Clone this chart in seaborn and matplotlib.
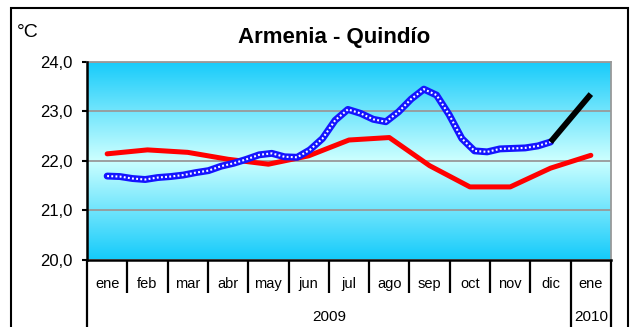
import numpy as np
import pandas as pd
import matplotlib
matplotlib.use("Agg")
import matplotlib.pyplot as plt
from matplotlib.colors import LinearSegmentedColormap
from matplotlib.patches import Rectangle
import matplotlib.transforms as mtransforms
import seaborn as sns

# ---- data -------------------------------------------------------------
months = ["ene", "feb", "mar", "abr", "may", "jun", "jul",
          "ago", "sep", "oct", "nov", "dic", "ene"]
year_labels = ["2009", "2010"]

# long-term monthly mean (°C)
monthly_mean = [22.14, 22.22, 22.17, 22.03, 21.93, 22.10, 22.42,
                22.47, 21.90, 21.47, 21.47, 21.85, 22.11]

# 2009 ten-day (decadal) temperature (°C), three values per month
decadal_2009 = [21.69, 21.68, 21.64, 21.62, 21.66, 21.68, 21.71, 21.76, 21.80,
                21.89, 21.95, 22.03, 22.12, 22.15, 22.08, 22.07, 22.22, 22.45,
                22.82, 23.04, 22.96, 22.84, 22.79, 22.99, 23.25, 23.45, 23.33,
                22.93, 22.45, 22.20, 22.18, 22.24, 22.25, 22.26, 22.30, 22.38]

# projection from December 2009 to January 2010
forecast_x = [11, 12]
forecast = [22.38, 23.35]

y_ticks = [20.0, 21.0, 22.0, 23.0, 24.0]

# ---- tables -----------------------------------------------------------
df_mean = pd.DataFrame({"pos": np.arange(len(months)), "temp": monthly_mean})
df_dec = pd.DataFrame({"pos": np.linspace(0, 11, len(decadal_2009)),
                       "temp": decadal_2009})
df_fc = pd.DataFrame({"pos": forecast_x, "temp": forecast})

# ---- figure -----------------------------------------------------------
sns.set_theme(style="white")
plt.rcParams["font.family"] = ["Liberation Sans", "DejaVu Sans"]

W, H = 632, 327
fig = plt.figure(figsize=(W / 100, H / 100), dpi=100)
fig.patch.set_facecolor("white")

x0, x1, ytop, ybot = 87, 611, 62, 259.5
ax = fig.add_axes([x0 / W, 1 - ybot / H, (x1 - x0) / W, (ybot - ytop) / H])

xmin, xmax = -0.5, len(months) - 0.5
ax.set_xlim(xmin, xmax)
ax.set_ylim(20, 24)

# sky gradient behind the plot
cmap = LinearSegmentedColormap.from_list(
    "sky", [(0.0, "#16cbfa"), (0.5, "#ccffff"), (1.0, "#16cbfa")])
grad = np.linspace(0, 1, 256).reshape(-1, 1)
ax.imshow(grad, extent=(xmin, xmax, 20, 24), origin="lower", aspect="auto",
          cmap=cmap, zorder=0, interpolation="bilinear")

for v in y_ticks[1:]:
    ax.axhline(v, color="#999999", lw=1.3, zorder=1)

# monthly mean (red)
sns.lineplot(data=df_mean, x="pos", y="temp", ax=ax, color="#ff0000",
             lw=3.6, zorder=3, legend=False)
# 2009 decadal series (blue, checkered)
sns.lineplot(data=df_dec, x="pos", y="temp", ax=ax, color="#1414ff",
             lw=5.0, zorder=4, legend=False)
sns.lineplot(data=df_dec, x="pos", y="temp", ax=ax, color="white",
             lw=1.5, zorder=5, legend=False)
ax.lines[-1].set_dashes((0.9, 1.1))
# forecast (black)
sns.lineplot(data=df_fc, x="pos", y="temp", ax=ax, color="black",
             lw=4.2, zorder=6, legend=False, solid_capstyle="butt")

# axes styling
ax.set_xlabel("")
ax.set_ylabel("")
ax.set_yticks(y_ticks)
ax.set_yticklabels([f"{v:.1f}".replace(".", ",") for v in y_ticks],
                   fontsize=12, color="black")
ax.tick_params(axis="y", which="both", left=True, length=3.8, width=1.5,
               color="black", pad=6.5)
ax.set_xticks([])
for side in ("top", "right"):
    ax.spines[side].set_color("#999999")
    ax.spines[side].set_linewidth(1.3)
for side in ("left", "bottom"):
    ax.spines[side].set_color("black")
    ax.spines[side].set_linewidth(1.8)
    ax.spines[side].set_zorder(7)

# category separators and labels below the axis
trans = mtransforms.blended_transform_factory(ax.transData, ax.transAxes)
short = -(293 - ybot) / (ybot - ytop)
long_ = -(H + 5 - ybot) / (ybot - ytop)
for k in range(len(months) + 1):
    xpos = xmin + k
    low = long_ if k in (0, 12, len(months)) else short
    ax.plot([xpos, xpos], [0, low], transform=trans, color="black",
            lw=1.6, clip_on=False, solid_capstyle="butt")

lab_base = -(288.3 - ybot) / (ybot - ytop)
for i, m in enumerate(months):
    ax.text(i, lab_base, m, transform=trans, ha="center", va="baseline",
            fontsize=10.5, color="black")

year_base = -(321 - ybot) / (ybot - ytop)
ax.text(5.5, year_base, year_labels[0], transform=trans, ha="center",
        va="baseline", fontsize=11, color="black")
ax.text(12, year_base, year_labels[1], transform=trans, ha="center",
        va="baseline", fontsize=11, color="black")

# titles
fig.text(334.5 / W, 1 - 43.3 / H, "Armenia - Quindío", ha="center",
         va="baseline", fontsize=16, fontweight="bold", color="black")
fig.text(17 / W, 1 - 36.7 / H, "°C", ha="left", va="baseline",
         fontsize=14, color="black")

# chart frame
fig.patches.append(Rectangle((11 / W, -0.2), (628 - 11) / W, 1.2 - 8.3 / H,
                             transform=fig.transFigure, fill=False,
                             edgecolor="black", lw=1.5))

fig.savefig("out.png", dpi=100)
